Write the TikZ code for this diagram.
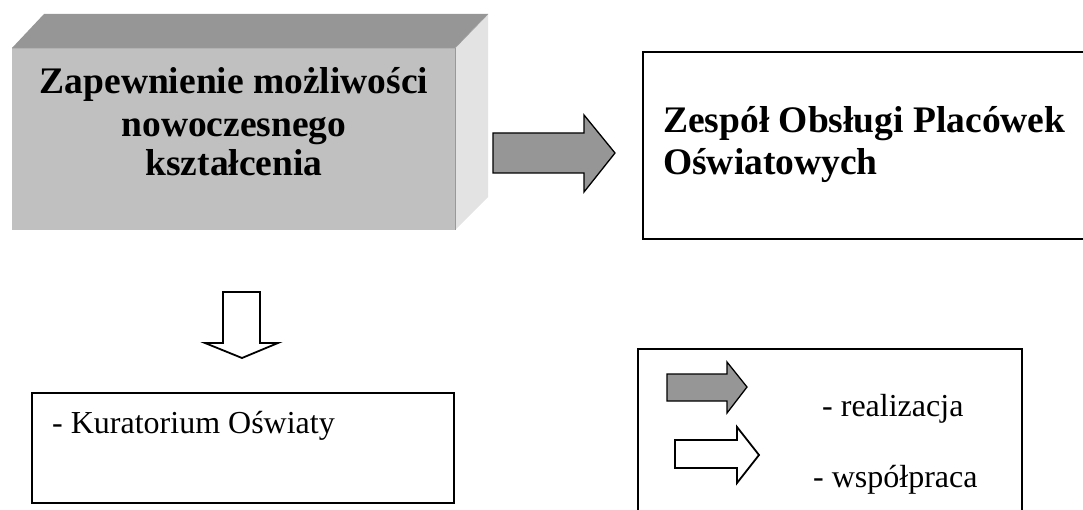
\documentclass[tikz,border=0pt]{standalone}
\usepackage{fontspec}
\setmainfont{Liberation Serif}
\definecolor{topgray}{HTML}{969696}
\definecolor{frontgray}{HTML}{C0C0C0}
\definecolor{sidegray}{HTML}{E3E3E3}
\definecolor{arrowgray}{HTML}{969696}
\tikzset{
  boxline/.style={draw=black, line width=1.6pt},
  grayarrow/.style={draw=black, line width=1.3pt, fill=arrowgray, line join=miter},
  whitearrow/.style={draw=black, line width=1.8pt, fill=white, line join=miter},
  boldtxt/.style={font=\fontsize{37.5}{41}\selectfont\bfseries, inner sep=0pt},
  regtxt/.style={font=\fontsize{32}{36}\selectfont, inner sep=0pt},
}
\begin{document}
\begin{tikzpicture}[x=1pt,y=-1pt]
\useasboundingbox (0,0) rectangle (1083,510);
% 3D box
\fill[topgray] (12,48) -- (44,14) -- (488,14) -- (455,48) -- cycle;
\fill[sidegray] (455,48) -- (488,14) -- (488,197) -- (455,230) -- cycle;
\fill[frontgray] (12,48) rectangle (455,230);
\draw[gray!80, line width=0.6pt] (12,48) -- (455,48) -- (488,14);
\draw[gray!80, line width=0.6pt] (455,48) -- (455,230);
\node[boldtxt, anchor=base] (t1) at (234,94) {Zapewnienie możliwości};
\node[boldtxt, anchor=base] (t2) at (234,137) {nowoczesnego};
\node[boldtxt, anchor=base] (t3) at (234,176) {kształcenia};
% gray arrow
\draw[grayarrow] (493,133) -- (584,133) -- (584,115) -- (615,153) -- (584,192) -- (584,173) -- (493,173) -- cycle;
% right box
\draw[boxline] (1083,52) -- (643,52) -- (643,239) -- (1083,239);
\node[boldtxt, anchor=base west] (z1) at (663,133) {Zespół Obsługi Placówek};
\node[boldtxt, anchor=base west] (z2) at (663,175) {Oświatowych};
% down arrow
\draw[whitearrow] (223,292) -- (260,292) -- (260,343) -- (278,343) -- (242,358) -- (205,343) -- (223,343) -- cycle;
% Kuratorium box
\draw[boxline] (32,393) rectangle (454,503);
\node[regtxt, anchor=base west] (k) at (52,433) {- Kuratorium Oświaty};
% legend box
\draw[boxline] (638,512) -- (638,349) -- (1022,349) -- (1022,512);
\draw[grayarrow] (667,374) -- (727,374) -- (727,362) -- (747,387) -- (727,413) -- (727,401) -- (667,401) -- cycle;
\draw[whitearrow] (675,440) -- (737,440) -- (737,427) -- (759,455) -- (737,483) -- (737,468) -- (675,468) -- cycle;
\node[regtxt, anchor=base west] (l1) at (822,416) {- realizacja};
\node[regtxt, anchor=base west] (l2) at (813,487) {- współpraca};
\end{tikzpicture}
\end{document}
